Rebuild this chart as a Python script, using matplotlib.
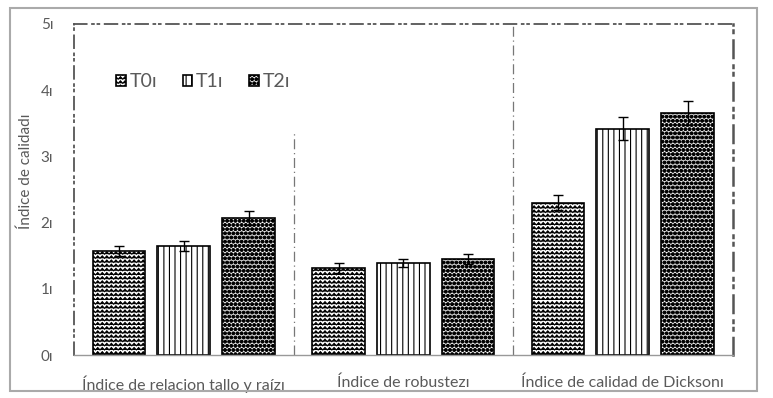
import numpy as np
import matplotlib
matplotlib.use("Agg")
import matplotlib.pyplot as plt
import matplotlib.hatch as mhatch
from matplotlib.path import Path
from matplotlib.patches import Rectangle

# datos
categorias = ["Índice de relacion tallo y raízı", "Índice de robustezı", "Índice de calidad de Dicksonı"]
tratamientos = ["T0ı", "T1ı", "T2ı"]
T0 = [1.57, 1.31, 2.30]
T1 = [1.64, 1.39, 3.42]
T2 = [2.07, 1.45, 3.66]
err_T0 = [0.08, 0.075, 0.115]
err_T1 = [0.075, 0.06, 0.18]
err_T2 = [0.10, 0.075, 0.18]
yticks = [0, 1, 2, 3, 4, 5]
ytick_labels = ["0ı", "1ı", "2ı", "3ı", "4ı", "5ı"]


# trama en zigzag que reemplaza a la trama horizontal '-'
class ZigZagHatch(mhatch.HatchPatternBase):
    def __init__(self, hatch, density):
        self.num_lines = int((hatch.count('-') + hatch.count('+')) * density)
        self.teeth = 22
        self.num_vertices = self.num_lines * (2 * self.teeth + 1)

    def set_vertices_and_codes(self, vertices, codes):
        n = 2 * self.teeth + 1
        xs = np.linspace(0, 1, n)
        amp = 0.6 / self.num_lines
        for i, y0 in enumerate(np.linspace(0, 1, self.num_lines, endpoint=False)):
            vertices[i*n:(i+1)*n, 0] = xs
            vertices[i*n:(i+1)*n, 1] = y0 + amp * (np.arange(n) % 2)
            codes[i*n] = Path.MOVETO
            codes[i*n+1:(i+1)*n] = Path.LINETO


mhatch._hatch_types = [ZigZagHatch if h is mhatch.HorizontalHatch else h for h in mhatch._hatch_types]
mhatch.SmallFilledCircles.size = 0.34

plt.rcParams['font.family'] = ['Lato', 'DejaVu Sans']
plt.rcParams['hatch.linewidth'] = 0.8
plt.rcParams['hatch.color'] = 'black'

gris = '#5a5a5a'
fig = plt.figure(figsize=(7.73, 3.98), dpi=100)
ax = fig.add_axes([0.0957, 0.108, 0.852, 0.832])

x = np.arange(len(categorias))
ancho = 0.24
paso = 0.295
series = [(T0, err_T0, '----'), (T1, err_T1, '|||'), (T2, err_T2, '....')]
for k, (vals, errs, trama) in enumerate(series):
    ax.bar(x + (k - 1) * paso, vals, ancho, yerr=errs, color='white', edgecolor='black',
           linewidth=1.2, hatch=trama, label=tratamientos[k],
           error_kw=dict(ecolor='black', elinewidth=1, capsize=3.5, capthick=1))

ax.set_xlim(-0.5, 2.5)
ax.set_ylim(0, 5)
ax.set_yticks(yticks)
ax.set_yticklabels(ytick_labels)
ax.set_xticks(x)
ax.set_xticklabels(categorias)
ax.tick_params(axis='both', length=0, colors=gris)
ax.tick_params(axis='y', pad=15, labelsize=11)
ax.tick_params(axis='x', pad=15, labelsize=11.5)

# separadores de grupos
ax.plot([0.5, 0.5], [0, 3.4], color='#777777', lw=0.9, ls=(0, (8, 3, 1, 3)))
ax.plot([1.5, 1.5], [0, 5], color='#777777', lw=0.9, ls=(0, (8, 3, 1, 3)))

estilo = (0, (7, 3, 1, 2, 1, 3))
for lado in ['top', 'left', 'right']:
    ax.spines[lado].set_linestyle(estilo)
    ax.spines[lado].set_color('#555555')
    ax.spines[lado].set_linewidth(1.3)
ax.spines['right'].set_linewidth(1.8)
ax.spines['bottom'].set_color('#999999')
ax.spines['bottom'].set_linewidth(1.0)

ax.set_ylabel("Índice de calidadı", color=gris, fontsize=11)
ax.yaxis.set_label_coords(-0.062, 0.556)

ley = ax.legend(loc='upper left', bbox_to_anchor=(0.052, 0.875), ncol=3, frameon=False,
                fontsize=14, handlelength=0.5, handleheight=0.5, handletextpad=0.2,
                columnspacing=1.3, borderaxespad=0)
for t in ley.get_texts():
    t.set_color(gris)

# marco exterior
fig.patches.append(Rectangle((0.0129, 0.0176), 0.966, 0.962, transform=fig.transFigure,
                             fill=False, edgecolor='#aaaaaa', linewidth=1.5))

fig.savefig('out.png', dpi=100)
